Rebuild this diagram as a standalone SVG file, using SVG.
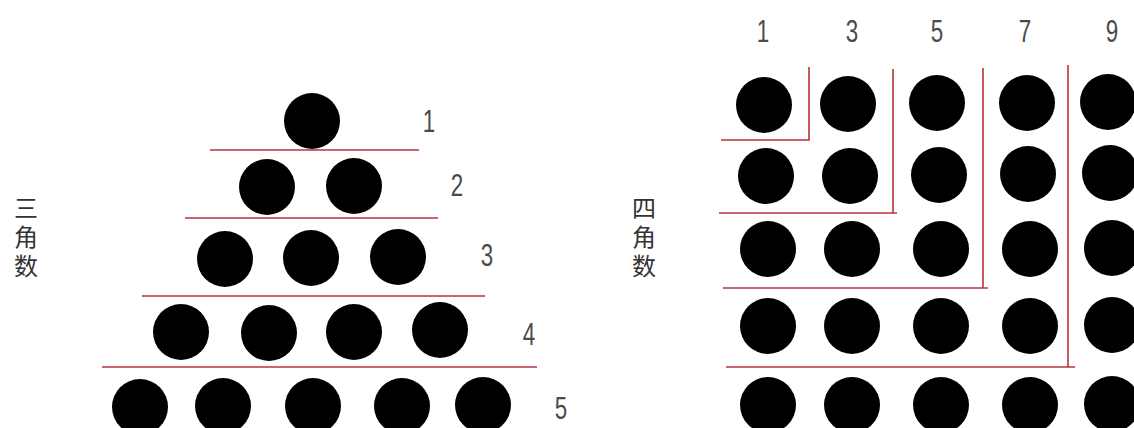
<svg xmlns="http://www.w3.org/2000/svg" width="1134" height="428" viewBox="0 0 1134 428">
<style>
.dot{fill:#000}
.ln{stroke:#b8323f;stroke-width:1.6;fill:none}
.num{font-family:"Liberation Sans",Arial,sans-serif;font-size:32px;fill:#4a4a4a;text-anchor:middle}
.cjk{font-family:"Noto Sans CJK SC","Noto Sans CJK JP",sans-serif;font-size:24px;fill:#333;writing-mode:vertical-rl;text-anchor:start;letter-spacing:5px}
</style>
<rect width="1134" height="428" fill="#fff"/>
<g id="triangle-title"><text class="cjk" x="26" y="196">三角数</text></g>
<g id="square-title"><text class="cjk" x="644" y="196">四角数</text></g>
<g id="triangle-dots">
<circle class="dot" cx="312" cy="121" r="28"/>
<circle class="dot" cx="267" cy="187" r="28"/><circle class="dot" cx="354" cy="186" r="28"/>
<circle class="dot" cx="225" cy="259" r="28"/><circle class="dot" cx="311" cy="258" r="28"/><circle class="dot" cx="398" cy="257" r="28"/>
<circle class="dot" cx="181" cy="332" r="28"/><circle class="dot" cx="269" cy="333" r="28"/><circle class="dot" cx="354" cy="332" r="28"/><circle class="dot" cx="440" cy="330" r="28"/>
<circle class="dot" cx="140" cy="407" r="28"/><circle class="dot" cx="223" cy="406" r="28"/><circle class="dot" cx="313" cy="406" r="28"/><circle class="dot" cx="402" cy="406" r="28"/><circle class="dot" cx="483" cy="405" r="28"/>
</g>
<g id="triangle-labels">
<text class="num" transform="translate(429,132) scale(0.7,1)">1</text>
<text class="num" transform="translate(457,196) scale(0.7,1)">2</text>
<text class="num" transform="translate(487,266) scale(0.7,1)">3</text>
<text class="num" transform="translate(529,345) scale(0.7,1)">4</text>
<text class="num" transform="translate(561,419) scale(0.7,1)">5</text>
</g>
<g id="square-dots">
<circle class="dot" cx="764" cy="105" r="28"/><circle class="dot" cx="848" cy="104" r="28"/><circle class="dot" cx="937" cy="103" r="28"/><circle class="dot" cx="1027" cy="103" r="28"/><circle class="dot" cx="1108" cy="102" r="28"/>
<circle class="dot" cx="766" cy="176" r="28"/><circle class="dot" cx="850" cy="176" r="28"/><circle class="dot" cx="939" cy="175" r="28"/><circle class="dot" cx="1028" cy="174" r="28"/><circle class="dot" cx="1110" cy="173" r="28"/>
<circle class="dot" cx="768" cy="249" r="28"/><circle class="dot" cx="852" cy="249" r="28"/><circle class="dot" cx="941" cy="249" r="28"/><circle class="dot" cx="1030" cy="249" r="28"/><circle class="dot" cx="1112" cy="248" r="28"/>
<circle class="dot" cx="768" cy="326" r="28"/><circle class="dot" cx="852" cy="326" r="28"/><circle class="dot" cx="941" cy="326" r="28"/><circle class="dot" cx="1030" cy="326" r="28"/><circle class="dot" cx="1112" cy="325" r="28"/>
<circle class="dot" cx="768" cy="405" r="28"/><circle class="dot" cx="852" cy="405" r="28"/><circle class="dot" cx="941" cy="405" r="28"/><circle class="dot" cx="1030" cy="405" r="28"/><circle class="dot" cx="1112" cy="404" r="28"/>
</g>
<g id="square-labels">
<text class="num" transform="translate(763,42) scale(0.7,1)">1</text>
<text class="num" transform="translate(852,42) scale(0.7,1)">3</text>
<text class="num" transform="translate(937,42) scale(0.7,1)">5</text>
<text class="num" transform="translate(1025,42) scale(0.7,1)">7</text>
<text class="num" transform="translate(1112,42) scale(0.7,1)">9</text>
</g>
<g id="connectors">
<line class="ln" x1="210" y1="150" x2="419" y2="150"/>
<line class="ln" x1="185" y1="218" x2="438" y2="218"/>
<line class="ln" x1="142" y1="296" x2="485" y2="296"/>
<line class="ln" x1="102" y1="367" x2="537" y2="367"/>
<polyline class="ln" points="721,140 809,140 809,67"/>
<polyline class="ln" points="719,213 897,213"/><line class="ln" x1="893" y1="69" x2="893" y2="213"/>
<polyline class="ln" points="723,288 988,288"/><line class="ln" x1="983" y1="68" x2="983" y2="288"/>
<polyline class="ln" points="726,367 1075,367"/><line class="ln" x1="1068" y1="65" x2="1068" y2="367"/>
</g>
</svg>
